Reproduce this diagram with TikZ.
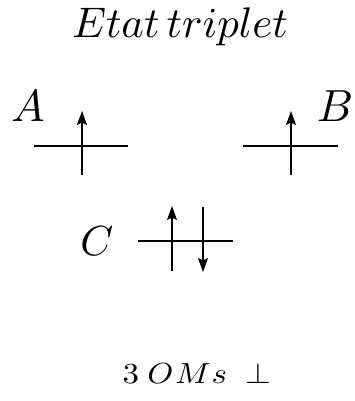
\documentclass[tikz,border=0pt]{standalone}
\usetikzlibrary{arrows.meta}
\tikzset{
  level/.style={line width=2.6pt},
  spin/.style={line width=1.3pt,arrows={-Stealth[length=14pt,width=10pt,inset=2.5pt]}},
  lbl/.style={inner sep=0pt,anchor=base}}
\begin{document}
\begin{tikzpicture}[x=1pt,y=-1pt]
\useasboundingbox (0,0) rectangle (354,401);
\node[lbl,scale=4.28] (title) at (180,38) {$Etat\,triplet$};
\node[lbl,scale=4.5] (A) at (28,121) {$A$};
\node[lbl,scale=4.5] (B) at (335,121) {$B$};
\node[lbl,scale=4.2] (C) at (97,255) {$C$};
\coordinate (a1) at (34,146); \coordinate (a2) at (128,146);
\coordinate (b1) at (243,146); \coordinate (b2) at (338,146);
\coordinate (c1) at (138,241); \coordinate (c2) at (233,241);
\draw[level] (a1) -- (a2);
\draw[level] (b1) -- (b2);
\draw[level] (c1) -- (c2);
\coordinate (as) at (82,175); \coordinate (ae) at (82,111);
\coordinate (bs) at (291,175); \coordinate (be) at (291,111);
\coordinate (cus) at (172,271); \coordinate (cue) at (172,206);
\coordinate (cds) at (203,207); \coordinate (cde) at (203,272);
\draw[spin] (as) -- (ae);
\draw[spin] (bs) -- (be);
\draw[spin] (cus) -- (cue);
\draw[spin] (cds) -- (cde);
\node[lbl,anchor=base west,xscale=3.3,yscale=2.9] (oms) at (122,383) {$3\hspace{2.5pt}O\hspace{0.5pt}M\hspace{0.3pt}s\hspace{5.5pt}{\perp}$};
\end{tikzpicture}
\end{document}
